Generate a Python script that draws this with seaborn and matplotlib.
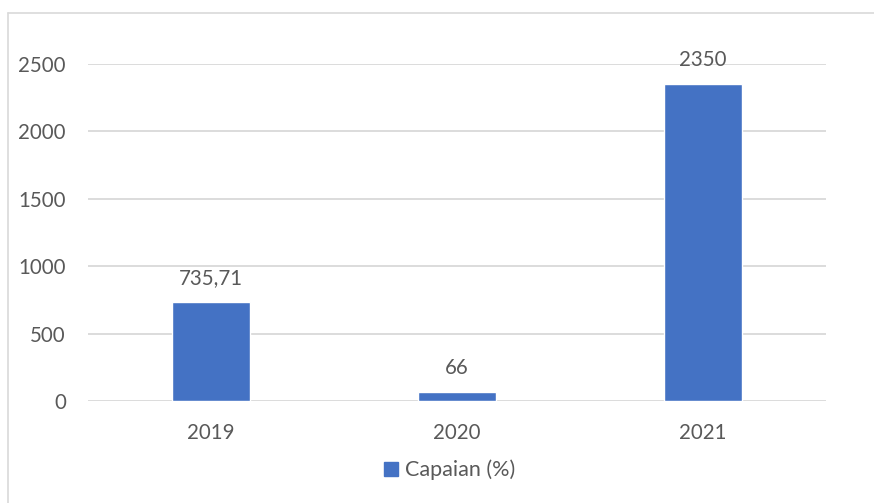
import matplotlib
matplotlib.use("Agg")
import matplotlib.pyplot as plt
from matplotlib.patches import Patch
from matplotlib.lines import Line2D
import seaborn as sns
import pandas as pd

# Data
years = ["2019", "2020", "2021"]
capaian = [735.71, 66, 2350]
series_name = "Capaian (%)"

df = pd.DataFrame({"Tahun": years, "Capaian": capaian})

sns.set_style("white")
plt.rcParams["font.family"] = ["Lato", "DejaVu Sans"]

bar_color = "#4472C4"
text_color = "#595959"
grid_color = "#D9D9D9"

fig = plt.figure(figsize=(8.74, 5.03), dpi=100)
ax = fig.add_axes([88 / 874, 1 - 401 / 503, (826 - 88) / 874, (401 - 64) / 503])

sns.barplot(data=df, x="Tahun", y="Capaian", color=bar_color, width=0.318,
            saturation=1, ax=ax)

ax.set_ylim(0, 2500)
ax.set_xlim(-0.5, 2.5)
ax.set_yticks(range(0, 2501, 500))
ax.yaxis.grid(True, color=grid_color, linewidth=1.3)
ax.set_axisbelow(True)
for s in ax.spines.values():
    s.set_visible(False)
ax.tick_params(axis="both", length=0, labelsize=14.8, labelcolor=text_color)
ax.tick_params(axis="y", pad=16)
ax.tick_params(axis="x", pad=16)
ax.set_xlabel("")
ax.set_ylabel("")

# value labels with comma as decimal separator
labels = [f"{v:g}".replace(".", ",") for v in capaian]
ax.bar_label(ax.containers[0], labels=labels, padding=10, fontsize=14.8,
             color=text_color)

ax.legend(handles=[Patch(color=bar_color, label=series_name)],
          loc="center", bbox_to_anchor=(0.49, -0.205), frameon=False,
          handlelength=0.65, handleheight=0.65, handletextpad=0.3,
          fontsize=15.5, labelcolor=text_color)

# chart frame (left and top edges visible)
fig.add_artist(Line2D([8 / 874, 8 / 874], [0, 1 - 13 / 503], color=grid_color,
                      linewidth=1.2, transform=fig.transFigure))
fig.add_artist(Line2D([8 / 874, 1], [1 - 13 / 503, 1 - 13 / 503], color=grid_color,
                      linewidth=1.2, transform=fig.transFigure))

fig.savefig("out.png", dpi=100, facecolor="white")
